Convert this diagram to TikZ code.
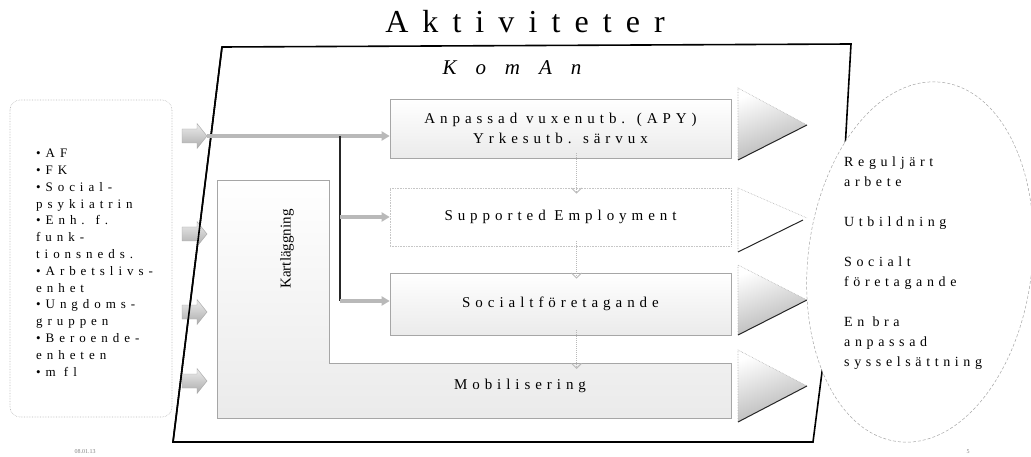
\documentclass[tikz,border=0pt]{standalone}
\usepackage{fontspec}
\setmainfont{Liberation Serif}
\newfontfamily\titlefont[LetterSpace=44]{Liberation Serif}
\newfontfamily\komfont[LetterSpace=90]{Liberation Serif}
\newfontfamily\boxfont[LetterSpace=33]{Liberation Serif}
\newfontfamily\listfont[LetterSpace=38]{Liberation Serif}
\newfontfamily\outfont[LetterSpace=33]{Liberation Serif}
\usetikzlibrary{arrows.meta,shapes.geometric}
\begin{document}
\begin{tikzpicture}[x=1pt,y=-1pt,
  frame/.style={line width=1.6pt, black},
  stagebox/.style={draw=gray!70, line width=0.6pt, top color=white, bottom color=gray!16, minimum width=341, inner sep=0},
  faintbox/.style={draw=gray!45, densely dotted, line width=0.6pt, fill=white, minimum width=341, inner sep=0},
  boxtext/.style={font=\boxfont\fontsize{15}{20}\selectfont, align=center, inner sep=0},
  fatarrow/.pic={
    \shade[draw=gray!70, line width=0.4pt, top color=gray!15, bottom color=gray!65]
      (-12.5,-7) -- (2.5,-7) -- (2.5,-12.5) -- (12.5,0) -- (2.5,12.5) -- (2.5,7) -- (-12.5,7) -- cycle;
    \coordinate (-tip) at (12.5,0);},
  grayconn/.style={line width=3.4pt, gray!55, -{Triangle[length=8pt,width=9pt]}},
  spine/.style={line width=2.4pt, black!85},
  downarrow/.style={gray!55, densely dotted, line width=1pt, -{Straight Barb[length=5pt,width=10pt]}},
  tri/.style={shading=axis, top color=white, bottom color=gray!60, shading angle=20},
  triedge/.style={line width=1pt, black!85},
  trileft/.style={gray!60, densely dotted, line width=0.6pt},
  smalltext/.style={font=\fontsize{6}{7}\selectfont, text=gray, inner sep=0}
]
\useasboundingbox (0,0) rectangle (1031,457);

% title
\node[font=\titlefont\fontsize{32}{36}\selectfont, inner sep=0] (title) at (525,22) {Aktiviteter};

% left source box
\draw[gray!55, densely dotted, line width=0.6pt, rounded corners=10] (10,100) rectangle (172,417);
\node[anchor=north west, align=left, inner sep=0, font=\listfont\fontsize{13}{16.8}\selectfont] (src) at (36,149)
 {•AF\\•FK\\•Social-\\psykiatrin\\•Enh. f.\\funk-\\tionsneds.\\•Arbetslivs-\\enhet\\•Ungdoms-\\gruppen\\•Beroende-\\enheten\\•m fl};

% Kartlaggning L-shape (with Mobilisering row)
\shade[draw=gray!70, line width=0.6pt, top color=white, bottom color=gray!16]
  (217,180) -- (329,180) -- (329,363) -- (731,363) -- (731,418) -- (217,418) -- cycle;
\node[rotate=90, font=\fontsize{15}{18}\selectfont, inner sep=0] (kart) at (287,249) {Kartläggning};
\node[boxtext] (mob) at (520,386) {Mobilisering};

% stage boxes
\node[stagebox, minimum height=59] (apy) at (560.5,128.5) {};
\node[boxtext] (apytext) at (apy) {Anpassad vuxenutb. (APY)\\Yrkesutb. särvux};
\node[faintbox, minimum height=58] (se) at (560.5,217) {};
\node[boxtext] (setext) at (se) {Supported Employment};
\node[stagebox, minimum height=62] (sf) at (560.5,304) {};
\node[boxtext] (sftext) at (sf) {Socialtföretagande};
\coordinate (mobtop) at (560.5,363);

% small down arrows
\draw[downarrow] ([xshift=16,yshift=5]apy.south) -- ([xshift=16,yshift=-6]se.north);
\draw[downarrow] ([xshift=16,yshift=5]se.south) -- ([xshift=16,yshift=-6]sf.north);
\draw[downarrow] ([xshift=16,yshift=5]sf.south) -- ([xshift=16,yshift=-6]mobtop);

% triangles
\shade[tri] (738,88) -- (807,125) -- (738,160) -- cycle;
\draw[trileft] (738,160) -- (738,88) -- (807,125);
\draw[triedge] (738,160) -- (807,125);
\draw[trileft] (738,252) -- (738,188) -- (807,218);
\draw[triedge] (738,252) -- (803,220);
\shade[tri] (738,265) -- (807,300) -- (738,335) -- cycle;
\draw[trileft] (738,335) -- (738,265) -- (807,300);
\draw[triedge] (738,335) -- (807,300);
\shade[tri] (738,350) -- (807,386) -- (738,422) -- cycle;
\draw[trileft] (738,422) -- (738,350) -- (807,386);
\draw[triedge] (738,422) -- (807,386);

% KomAn frame
\draw[frame] (222,47) -- (851,44) -- (845,150) -- (822,372) -- (813,442) -- (173,442) -- cycle;
\node[font=\komfont\itshape\fontsize{21}{24}\selectfont, inner sep=0] (koman) at (512,68) {KomAn};

% outcome ellipse
\node[ellipse, draw=gray!70, densely dashed, line width=0.5pt, fill=white, minimum width=224, minimum height=362, rotate=-7, inner sep=0] (out) at (920,262) {};
\node[anchor=north west, align=left, inner sep=0, font=\outfont\fontsize{14}{20}\selectfont] (outtext) at (844,157)
 {Reguljärt\\arbete\\[20pt]Utbildning\\[20pt]Socialt\\företagande\\[20pt]En bra\\anpassad\\sysselsättning};

% input fat arrows
\pic (in1) at (194.5,136) {fatarrow};
\pic (in2) at (194.5,234) {fatarrow};
\pic (in3) at (194.5,312) {fatarrow};
\pic (in4) at (194.5,381) {fatarrow};
\draw[frame] (222,47) -- (173,442);

% connectors
\coordinate (j1) at (340,136);
\coordinate (j2) at (340,217);
\coordinate (j3) at (340,301);
\draw[grayconn] (in1-tip) -- (apy.west |- in1-tip);
\draw[spine] (j1) -- (j3);
\draw[grayconn] (j2) -- (se.west |- j2);
\draw[grayconn] (j3) -- (sf.west |- j3);

% page marks
\node[smalltext] (date) at (85,452) {08.01.13};
\node[smalltext] (page) at (968,452) {5};
\end{tikzpicture}
\end{document}
